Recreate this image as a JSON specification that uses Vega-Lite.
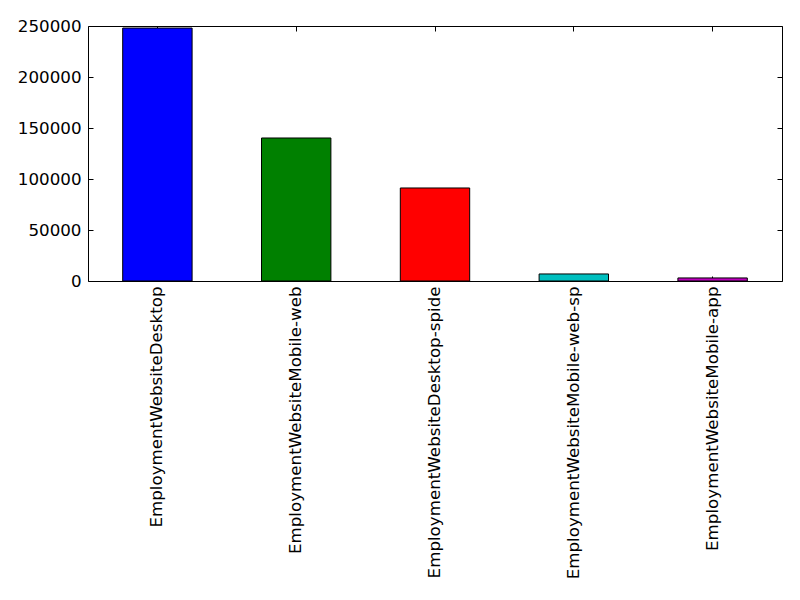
{
  "$schema": "https://vega.github.io/schema/vega-lite/v6.json",
  "width": 694,
  "height": 255,
  "autosize": "none",
  "padding": {"left": 88, "top": 26, "right": 18, "bottom": 319},
  "background": "white",
  "config": {
    "view": {"stroke": "black", "strokeWidth": 1},
    "font": "DejaVu Sans",
    "axis": {"labelFont": "DejaVu Sans", "labelFontSize": 16.7, "labelColor": "black", "labelLimit": 0, "domain": false, "grid": false, "ticks": true, "tickColor": "black", "tickSize": -5, "title": null}
  },
  "data": {
    "values": [
      {"source": "EmploymentWebsiteDesktop", "count": 248000, "order": 1},
      {"source": "EmploymentWebsiteMobile-web", "count": 140200, "order": 2},
      {"source": "EmploymentWebsiteDesktop-spide", "count": 91200, "order": 3},
      {"source": "EmploymentWebsiteMobile-web-sp", "count": 6900, "order": 4},
      {"source": "EmploymentWebsiteMobile-app", "count": 3000, "order": 5}
    ]
  },
  "encoding": {
    "x": {"field": "source", "type": "nominal", "sort": {"field": "order"}, "scale": {"paddingInner": 0.5, "paddingOuter": 0.25}},
    "y": {"field": "count", "type": "quantitative", "scale": {"domain": [0, 250000], "nice": false}}
  },
  "layer": [
    {
      "mark": {"type": "bar", "stroke": "black", "strokeWidth": 1},
      "encoding": {
        "x": {"field": "source", "type": "nominal", "sort": {"field": "order"}, "axis": {"orient": "bottom", "labelAngle": -90, "labelPadding": 10, "labelBaseline": "middle", "labelAlign": "right"}},
        "y": {"field": "count", "type": "quantitative", "axis": {"orient": "left", "values": [0, 50000, 100000, 150000, 200000, 250000], "format": "d", "labelPadding": 12}},
        "color": {
          "field": "source", "type": "nominal", "sort": {"field": "order"}, "legend": null,
          "scale": {"domain": ["EmploymentWebsiteDesktop", "EmploymentWebsiteMobile-web", "EmploymentWebsiteDesktop-spide", "EmploymentWebsiteMobile-web-sp", "EmploymentWebsiteMobile-app"], "range": ["#0000ff", "#008000", "#ff0000", "#00bfbf", "#bf00bf"]}
        }
      }
    },
    {
      "mark": {"type": "bar", "opacity": 0},
      "encoding": {
        "x": {"field": "source", "type": "nominal", "sort": {"field": "order"}, "axis": {"orient": "top", "labels": false}},
        "y": {"field": "count", "type": "quantitative", "axis": {"orient": "right", "labels": false, "values": [0, 50000, 100000, 150000, 200000, 250000]}}
      }
    }
  ]
}
